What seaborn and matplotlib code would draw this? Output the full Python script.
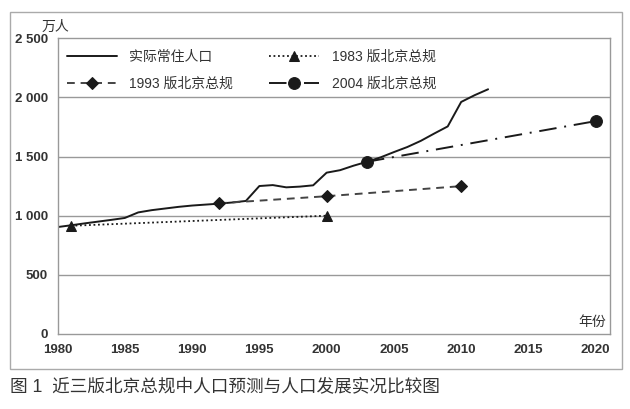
import matplotlib
matplotlib.use("Agg")
import matplotlib.pyplot as plt
import seaborn as sns
import pandas as pd
from matplotlib.patches import Rectangle

# ---- data ----
actual_years = list(range(1980, 2013))
actual_pop = [904, 919, 935, 950, 965, 981, 1028, 1047, 1061, 1075, 1086, 1094,
              1102, 1112, 1125, 1251, 1259, 1240, 1246, 1257, 1364, 1385, 1423,
              1456, 1493, 1538, 1581, 1633, 1695, 1755, 1962, 2019, 2069]
plan83_years = [1981, 2000]
plan83_pop = [915, 1000]
plan93_years = [1992, 2000, 2010]
plan93_pop = [1105, 1165, 1250]
plan04_years = [2003, 2020]
plan04_pop = [1456, 1800]

labels = ["实际常住人口", "1983 版北京总规", "1993 版北京总规", "2004 版北京总规"]
yticks = [0, 500, 1000, 1500, 2000, 2500]
ytick_labels = ["0", "500", "1 000", "1 500", "2 000", "2 500"]
xticks = [1980, 1985, 1990, 1995, 2000, 2005, 2010, 2015, 2020]
y_unit = "万人"
x_unit = "年份"
caption = "图 1  近三版北京总规中人口预测与人口发展实况比较图"

sns.set_style("white")
plt.rcParams['font.family'] = ['Liberation Sans', 'Noto Sans CJK SC', 'DejaVu Sans']

fig = plt.figure(figsize=(6.30, 4.09), dpi=100)
ax = fig.add_axes([57.5 / 630, (409 - 334) / 409, (610 - 57.5) / 630, (334 - 38.3) / 409])

dark = "#1a1a1a"
grey = "#999999"
txt = "#333333"

df_a = pd.DataFrame({"year": actual_years, "pop": actual_pop})
df_83 = pd.DataFrame({"year": plan83_years, "pop": plan83_pop})
df_93 = pd.DataFrame({"year": plan93_years, "pop": plan93_pop})
df_04 = pd.DataFrame({"year": plan04_years, "pop": plan04_pop})

sns.lineplot(data=df_a, x="year", y="pop", ax=ax, color=dark, lw=1.4, label=labels[0])
sns.lineplot(data=df_83, x="year", y="pop", ax=ax, color=dark, lw=1.3,
             linestyle=(0, (1, 1.5)), marker="^", markersize=7.5, markeredgecolor=dark,
             label=labels[1])
sns.lineplot(data=df_93, x="year", y="pop", ax=ax, color="#444444", lw=1.4,
             linestyle=(0, (4, 3)), marker="D", markersize=6.5, markerfacecolor=dark,
             markeredgecolor=dark, label=labels[2])
sns.lineplot(data=df_04, x="year", y="pop", ax=ax, color=dark, lw=1.4,
             linestyle=(0, (9, 4, 1, 4)), marker="o", markersize=8.5, markerfacecolor=dark,
             markeredgecolor=dark, label=labels[3])

ax.set_xlim(1980, 2021.06)
ax.set_ylim(0, 2500)
ax.set_yticks(yticks)
ax.set_yticklabels(ytick_labels)
ax.set_xticks(xticks)
ax.set_xlabel("")
ax.set_ylabel("")
ax.grid(False)
for yv in yticks[1:-1]:
    ax.axhline(yv, color=grey, lw=1.0, zorder=0)

for s in ax.spines.values():
    s.set_color(grey)
    s.set_linewidth(1.0)
ax.tick_params(axis="y", length=0, pad=7, labelsize=9.5, labelcolor=txt)
ax.tick_params(axis="x", length=4, width=1, color=grey, pad=3, labelsize=9.5, labelcolor=txt)
for t in ax.get_xticklabels() + ax.get_yticklabels():
    t.set_fontweight("bold")

handles, labs = ax.get_legend_handles_labels()
order = [0, 2, 1, 3]
leg = ax.legend([handles[i] for i in order], [labs[i] for i in order],
                loc="upper left", bbox_to_anchor=(0.017, 0.962), ncol=2, frameon=False,
                borderaxespad=0, borderpad=0, handlelength=3.6, handletextpad=0.9,
                columnspacing=2.6, labelspacing=0.95, fontsize=10)
for t in leg.get_texts():
    t.set_color(txt)

fig.text(42 / 630, 1 - 27 / 409, y_unit, fontsize=10, color=txt, ha="left", va="center")
ax.text(0.993, 0.04, x_unit, transform=ax.transAxes, fontsize=10, color=txt,
        ha="right", va="center")
fig.text(10 / 630, 1 - 388 / 409, caption, fontsize=12.7, color=txt, ha="left",
         va="center", fontweight="medium")

fig.add_artist(Rectangle((10 / 630, (409 - 369) / 409), 612 / 630, 357 / 409,
                         transform=fig.transFigure, fill=False, edgecolor="#aaaaaa", lw=1.0))

fig.savefig("out.png", dpi=100)
